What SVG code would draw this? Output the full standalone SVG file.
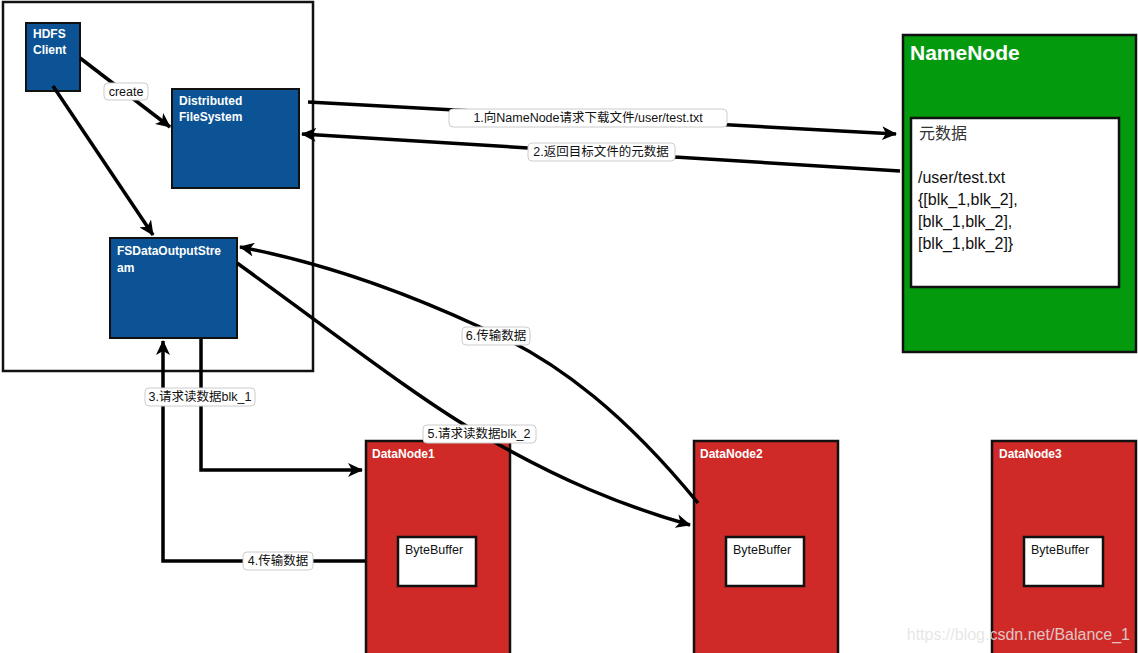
<svg xmlns="http://www.w3.org/2000/svg" width="1138" height="653" viewBox="0 0 1138 653">
<style>
.blue{fill:#0b5394;stroke:#111;stroke-width:2}
.red{fill:#cf2a27;stroke:#111;stroke-width:2.5}
.wbox{fill:#fff;stroke:#111;stroke-width:2.5}
.nt{font-family:"Liberation Sans","Noto Sans",sans-serif;font-weight:bold;font-size:12px;fill:#fff}
.bt{font-family:"Liberation Sans","Noto Sans",sans-serif;font-size:12.5px;fill:#111}
.edge{fill:none;stroke:#000;stroke-width:3.5}
.lb{fill:#fff;stroke:#ccc;stroke-width:1}
.lt{font-family:"Liberation Sans","Noto Sans CJK SC",sans-serif;font-size:12.5px;fill:#111;text-anchor:middle}
.md{font-family:"Liberation Sans","Noto Sans CJK SC",sans-serif;font-size:16px;fill:#111}
</style>
<defs>
<marker id="ah" markerUnits="userSpaceOnUse" markerWidth="16" markerHeight="14" refX="14" refY="7" orient="auto">
<path d="M0,0 L15,7 L0,14 L4,7 z" fill="#000"/>
</marker>
</defs>
<rect width="1138" height="653" fill="#fff"/>
<g id="client-box">
<rect x="3" y="2" width="310" height="369" fill="#fff" stroke="#111" stroke-width="2.5"/>
</g>
<g id="hdfs-client">
<rect class="blue" x="26" y="23" width="54" height="68"/>
<text class="nt" x="33" y="38">HDFS</text>
<text class="nt" x="33" y="54">Client</text>
</g>
<g id="dfs">
<rect class="blue" x="172" y="89" width="127" height="99"/>
<text class="nt" x="179" y="105">Distributed</text>
<text class="nt" x="179" y="121">FileSystem</text>
</g>
<g id="fsdos">
<rect class="blue" x="110" y="238" width="127" height="100"/>
<text class="nt" x="117" y="255">FSDataOutputStre</text>
<text class="nt" x="117" y="272">am</text>
</g>
<g id="namenode">
<rect x="903" y="35" width="233" height="317" fill="#039a0e" stroke="#111" stroke-width="2.5"/>
<text x="910" y="60" font-family="Liberation Sans,Noto Sans,sans-serif" font-weight="bold" font-size="21" fill="#fff">NameNode</text>
<rect class="wbox" x="911" y="118" width="208" height="169"/>
<text x="919" y="139" font-family="Liberation Serif,Noto Sans CJK SC,serif" font-size="16" fill="#333">元数据</text>
<text class="md" x="918" y="183">/user/test.txt</text>
<text class="md" x="918" y="205">{[blk_1,blk_2],</text>
<text class="md" x="918" y="227">[blk_1,blk_2],</text>
<text class="md" x="918" y="249">[blk_1,blk_2]}</text>
</g>
<g id="datanode1">
<rect class="red" x="366" y="441" width="144" height="214"/>
<text class="nt" x="372" y="458">DataNode1</text>
<rect class="wbox" x="398" y="537" width="78" height="49"/>
<text class="bt" x="405" y="554">ByteBuffer</text>
</g>
<g id="datanode2">
<rect class="red" x="694" y="441" width="144" height="214"/>
<text class="nt" x="700" y="458">DataNode2</text>
<rect class="wbox" x="726" y="537" width="78" height="49"/>
<text class="bt" x="733" y="554">ByteBuffer</text>
</g>
<g id="datanode3">
<rect class="red" x="992" y="441" width="144" height="214"/>
<text class="nt" x="999" y="458">DataNode3</text>
<rect class="wbox" x="1024" y="537" width="79" height="49"/>
<text class="bt" x="1031" y="554">ByteBuffer</text>
</g>
<g id="connectors">
<path class="edge" d="M80,58 L170,127" marker-end="url(#ah)"/>
<path class="edge" d="M53,86 L153,235" marker-end="url(#ah)"/>
<path class="edge" d="M308,102 L896,134" marker-end="url(#ah)"/>
<path class="edge" d="M900,171 L302,134" marker-end="url(#ah)"/>
<path class="edge" d="M201,339 L201,470 L362,470" marker-end="url(#ah)"/>
<path class="edge" d="M365,561 L163,561 L163,341" marker-end="url(#ah)"/>
<path class="edge" d="M237,263 C330,330 420,400 480,434 C560,480 620,505 690,525" marker-end="url(#ah)"/>
<path class="edge" d="M698,503 C630,420 560,360 480,327 C400,290 320,262 240,247" marker-end="url(#ah)"/>
<rect class="lb" x="104" y="83" width="44" height="17" rx="4"/>
<text class="lt" x="126" y="96">create</text>
<rect class="lb" x="449" y="109" width="278" height="18" rx="4"/>
<text class="lt" x="588" y="122">1.向NameNode请求下载文件/user/test.txt</text>
<rect class="lb" x="528" y="143" width="147" height="18" rx="4"/>
<text class="lt" x="601" y="156">2.返回目标文件的元数据</text>
<rect class="lb" x="145" y="388" width="110" height="18" rx="4"/>
<text class="lt" x="200" y="401">3.请求读数据blk_1</text>
<rect class="lb" x="243" y="552" width="70" height="18" rx="4"/>
<text class="lt" x="278" y="565">4.传输数据</text>
<rect class="lb" x="423" y="425" width="113" height="18" rx="4"/>
<text class="lt" x="479" y="438">5.请求读数据blk_2</text>
<rect class="lb" x="462" y="327" width="68" height="18" rx="4"/>
<text class="lt" x="496" y="340">6.传输数据</text>
</g>
<text x="1130" y="640" text-anchor="end" font-family="Liberation Sans,sans-serif" font-size="16" fill="#e2e2e2" fill-opacity="0.85">https://blog.csdn.net/Balance_1</text>
</svg>
